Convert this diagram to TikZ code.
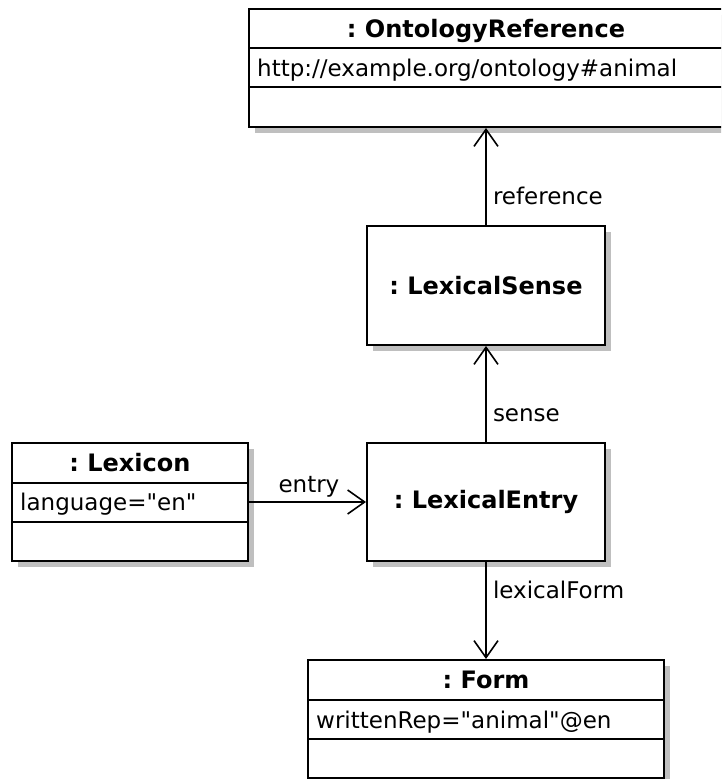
\documentclass[tikz,border=0pt]{standalone}
\usepackage{fontspec}
\setmainfont{DejaVu Sans}[Ligatures=TeXOff]
\usetikzlibrary{arrows.meta,shadows}
\frenchspacing

\begin{document}
\begin{tikzpicture}[x=1pt,y=-1pt,
    objbox/.style={draw=black, line width=2pt, fill=white, rectangle, inner sep=0pt,
      font=\fontsize{24}{29}\selectfont\bfseries,
      drop shadow={shadow xshift=6pt, shadow yshift=-6pt, fill=black!25, opacity=1}},
    rowline/.style={line width=2pt},
    title/.style={font=\fontsize{24}{29}\selectfont\bfseries, anchor=base, inner sep=0pt},
    attr/.style={font=\fontsize{23}{28}\selectfont, anchor=base west, inner sep=0pt},
    role/.style={font=\fontsize{23}{28}\selectfont, anchor=base west, inner sep=0pt},
    assoc/.style={line width=2pt, -{Straight Barb[length=17pt,width=24pt,line width=1.6pt]}}]
    % Page frame
    \useasboundingbox (0,0) rectangle (721,779);
    \clip (0,0) rectangle (721,779);
    \fill[white] (0,0) rectangle (721,779);
    % Draw the ontology reference
    \node[objbox, minimum width=474pt, minimum height=118pt] (ontref) at (486,68) {};
    \node[title] (ontreft) at (486,37) {: OntologyReference};
    \node[attr] (ontrefa) at (257,76) {http://example.org/ontology\#animal};
    % Draw the lexical sense and the lexical entry
    \node[objbox, minimum width=238pt, minimum height=119pt] (sense) at (486,285.5) {: LexicalSense};
    \node[objbox, minimum width=238pt, minimum height=118pt] (entry) at (486,502) {: LexicalEntry};
    % Draw the lexicon
    \node[objbox, minimum width=236pt, minimum height=118pt] (lexicon) at (130,502) {};
    \node[title] (lexicont) at (130,471) {: Lexicon};
    \node[attr] (lexicona) at (20,510) {language="en"};
    % Draw the form
    \node[objbox, minimum width=356pt, minimum height=118pt] (form) at (486,719) {};
    \node[title] (formt) at (486,688) {: Form};
    \node[attr] (forma) at (316,728) {writtenRep="animal"@en};
    % Draw the compartment lines
    \foreach \obj/\ya/\yb in {ontref/48/87, lexicon/483/522, form/700/739} {
        \draw[rowline] (\obj.west |- 0,\ya) -- (\obj.east |- 0,\ya);
        \draw[rowline] (\obj.west |- 0,\yb) -- (\obj.east |- 0,\yb);
    }
    % Draw the links
    \draw[assoc] (sense) -- (ontref) node[role, pos=0.21, xshift=6pt] (lref) {reference};
    \draw[assoc] (entry) -- (sense) node[role, pos=0.214, xshift=6pt] (lsense) {sense};
    \draw[assoc] (lexicon) -- (entry) node[role, pos=0.244, yshift=10pt] (lentry) {entry};
    \draw[assoc] (entry) -- (form) node[role, pos=0.374, xshift=6pt] (lform) {lexicalForm};
\end{tikzpicture}
\end{document}
